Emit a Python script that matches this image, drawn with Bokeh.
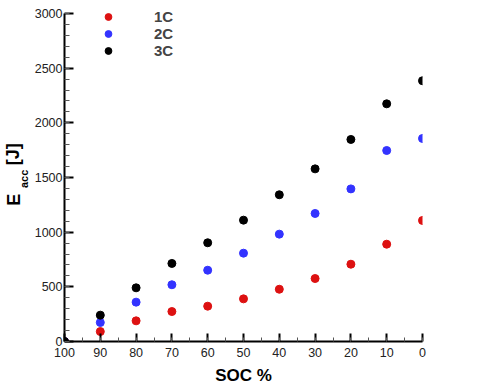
from bokeh.plotting import figure
from bokeh.layouts import row
from bokeh.models import FixedTicker, Legend, LegendItem, Range1d
from bokeh.core.properties import value
from bokeh.embed import file_html
from bokeh.resources import INLINE
from math import pi

soc = [100, 90, 80, 70, 60, 50, 40, 30, 20, 10, 0]
e_1c = [0, 91, 189, 274, 323, 390, 478, 576, 707, 890, 1107]
e_2c = [0, 174, 360, 519, 652, 808, 982, 1171, 1396, 1747, 1857]
e_3c = [0, 241, 491, 714, 903, 1110, 1342, 1579, 1848, 2174, 2385]
series_names = ["1C", "2C", "3C"]
series_colors = ["#dd1111", "#3333ff", "#000000"]
x_ticks = [100, 90, 80, 70, 60, 50, 40, 30, 20, 10, 0]
y_ticks = [0, 500, 1000, 1500, 2000, 2500, 3000]

FONT = "Liberation Sans"
H = 389
LW = 31

# narrow panel carrying the y-axis title (E_acc [J]) with a real subscript
lab = figure(width=LW, height=H, output_backend="svg", toolbar_location=None,
             x_range=Range1d(0, LW), y_range=Range1d(0, H),
             x_axis_type=None, y_axis_type=None, min_border=0)
lab.outline_line_color = None
lab.text(x=[13.0], y=[H - 234], text=["E"], angle=pi / 2, text_font=value(FONT),
         text_font_size="18px", text_font_style="bold", text_align="left",
         text_baseline="middle", text_color="black")
lab.text(x=[23.8], y=[H - 214], text=["acc"], angle=pi / 2, text_font=value(FONT),
         text_font_size="11px", text_font_style="bold", text_align="left",
         text_baseline="middle", text_color="black")
lab.text(x=[12.5], y=[H - 188], text=["[J]"], angle=pi / 2, text_font=value(FONT),
         text_font_size="18px", text_font_style="bold", text_align="left",
         text_baseline="middle", text_color="black")

# y range extends a little above 3000 so the legend is not clipped; axis line stops at 3000
p = figure(width=480 - LW, height=H, output_backend="svg", toolbar_location=None,
           x_range=Range1d(100, 0), y_range=Range1d(0, 3119),
           min_border_left=32, min_border_right=58, min_border_top=0, min_border_bottom=48)
p.outline_line_color = None
p.xgrid.visible = False
p.ygrid.visible = False

renderers = []
for vals, col in zip([e_1c, e_2c, e_3c], series_colors):
    r = p.scatter(soc, vals, size=8, color=col, line_color=col)
    renderers.append(r)

for ax in (p.xaxis[0], p.yaxis[0]):
    ax.axis_line_width = 2
    ax.axis_line_color = "black"
    ax.major_tick_line_width = 2
    ax.major_tick_line_color = "black"
    ax.minor_tick_line_color = "#555555"
    ax.minor_tick_line_width = 1
    ax.major_tick_out = 0
    ax.minor_tick_out = 0
    ax.major_label_text_font = FONT
    ax.major_label_text_font_size = "12.5px"
    ax.major_label_text_color = "#222222"

p.yaxis[0].bounds = (0, 3000)
p.xaxis[0].ticker = FixedTicker(ticks=x_ticks, minor_ticks=list(range(0, 101, 5)))
p.yaxis[0].ticker = FixedTicker(ticks=y_ticks, minor_ticks=list(range(0, 3001, 100)))
p.xaxis[0].major_tick_in = 8
p.xaxis[0].minor_tick_in = 4
p.yaxis[0].major_tick_in = 9
p.yaxis[0].minor_tick_in = 5
p.xaxis[0].major_label_standoff = 6
p.yaxis[0].major_label_standoff = 2

p.xaxis[0].axis_label = "SOC %"
p.xaxis[0].axis_label_text_font = FONT
p.xaxis[0].axis_label_text_font_size = "17px"
p.xaxis[0].axis_label_text_font_style = "bold"
p.xaxis[0].axis_label_text_color = "black"
p.xaxis[0].axis_label_standoff = 6

legend = Legend(items=[LegendItem(label=n, renderers=[r]) for n, r in zip(series_names, renderers)],
                location=(34, 282), padding=0, margin=0, spacing=0,
                glyph_width=20, glyph_height=17, label_height=17, label_width=30,
                label_standoff=36,
                label_text_font=FONT, label_text_font_size="15px", label_text_font_style="bold",
                border_line_alpha=0, background_fill_alpha=0)
p.add_layout(legend)

open("out.html", "w").write(file_html(row(lab, p), INLINE))
